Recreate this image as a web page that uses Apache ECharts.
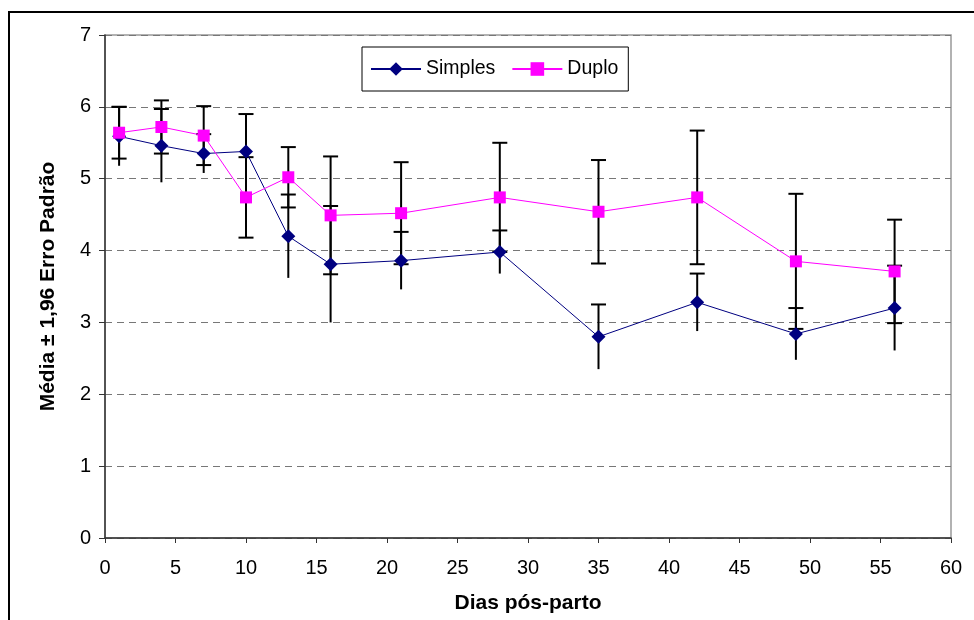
<!DOCTYPE html>
<html>
<head>
<meta charset="utf-8">
<script src="https://cdn.jsdelivr.net/npm/echarts@6/dist/echarts.min.js"></script>
<style>
html,body{margin:0;padding:0;background:#fff;}
#chart{width:974px;height:620px;}
</style>
</head>
<body>
<div id="chart"></div>
<script>
// ---- data ----
const days        = [1, 4, 7, 10, 13, 16, 21, 28, 35, 42, 49, 56];
const simplesMean = [5.59, 5.46, 5.35, 5.38, 4.20, 3.81, 3.86, 3.98, 2.80, 3.28, 2.84, 3.20];
const simplesErr  = [0.41, 0.51, 0.27, 0.52, 0.58, 0.81, 0.40, 0.30, 0.45, 0.40, 0.36, 0.59];
const duploMean   = [5.64, 5.72, 5.60, 4.74, 5.02, 4.49, 4.52, 4.74, 4.54, 4.74, 3.85, 3.71];
const duploErr    = [0.36, 0.37, 0.41, 0.56, 0.42, 0.82, 0.71, 0.76, 0.72, 0.93, 0.94, 0.72];
const seriesNames = ['Simples', 'Duplo'];
const xTitle = 'Dias pós-parto';
const yTitle = 'Média ± 1,96 Erro Padrão';

const FONT = "'Liberation Sans', Arial, sans-serif";
const chart = echarts.init(document.getElementById('chart'), null, {renderer: 'canvas'});

function errData(mean, err) {
  return days.map((d, i) => [d, mean[i], err[i]]);
}
function lineData(mean) {
  return days.map((d, i) => [d, mean[i]]);
}
function errRender(bottomCap) {
  return function (params, api) {
    const x = api.value(0), m = api.value(1), e = api.value(2);
    const top = api.coord([x, m + e]);
    const bot = api.coord([x, m - e]);
    const hw = 7.5;
    const st = {stroke: '#000', lineWidth: 2};
    const children = [
      {type: 'line', shape: {x1: top[0], y1: top[1], x2: bot[0], y2: bot[1]}, style: st},
      {type: 'line', shape: {x1: top[0] - hw, y1: top[1], x2: top[0] + hw, y2: top[1]}, style: st}
    ];
    if (bottomCap) {
      children.push({type: 'line', shape: {x1: bot[0] - hw, y1: bot[1], x2: bot[0] + hw, y2: bot[1]}, style: st});
    }
    return {type: 'group', children: children};
  };
}

const option = {
  animation: false,
  backgroundColor: '#fff',
  textStyle: {fontFamily: FONT, color: '#000'},
  graphic: [{
    type: 'rect', z: -10, silent: true,
    shape: {x: 9, y: 12, width: 1000, height: 700},
    style: {fill: 'none', stroke: '#000', lineWidth: 2}
  }],
  grid: {
    left: 105, right: 23, top: 35, bottom: 82,
    show: true, borderColor: '#999', borderWidth: 1.5, backgroundColor: 'transparent'
  },
  legend: {
    data: seriesNames,
    left: 362, top: 47,
    orient: 'horizontal',
    padding: [12, 10, 12, 8],
    itemWidth: 50, itemHeight: 17, itemGap: 16,
    borderColor: '#000', borderWidth: 1, backgroundColor: '#fff',
    textStyle: {fontFamily: FONT, fontSize: 19.5, color: '#000'}
  },
  xAxis: {
    type: 'value', min: 0, max: 60, interval: 5,
    name: xTitle, nameLocation: 'middle', nameGap: 55,
    nameTextStyle: {fontFamily: FONT, fontSize: 21, fontWeight: 'bold', color: '#000'},
    axisLine: {show: true, onZero: false, lineStyle: {color: '#333', width: 1.5}},
    axisTick: {show: true, inside: false, length: 5, lineStyle: {color: '#333', width: 1}},
    axisLabel: {fontFamily: FONT, fontSize: 20, color: '#000', margin: 20},
    splitLine: {show: false}
  },
  yAxis: {
    type: 'value', min: 0, max: 7, interval: 1,
    name: yTitle, nameLocation: 'middle', nameGap: 46, nameRotate: 90,
    nameTextStyle: {fontFamily: FONT, fontSize: 21, fontWeight: 'bold', color: '#000'},
    axisLine: {show: true, lineStyle: {color: '#333', width: 1.5}},
    axisTick: {show: true, inside: false, length: 6, lineStyle: {color: '#333', width: 1}},
    axisLabel: {fontFamily: FONT, fontSize: 20, color: '#000', margin: 14},
    splitLine: {show: true, lineStyle: {color: '#777', width: 1, type: [7, 5]}}
  },
  series: [
    {
      name: 'Simples erro', type: 'custom', z: 1, silent: true,
      renderItem: errRender(false),
      encode: {x: 0, y: 1},
      data: errData(simplesMean, simplesErr)
    },
    {
      name: 'Duplo erro', type: 'custom', z: 1, silent: true,
      renderItem: errRender(true),
      encode: {x: 0, y: 1},
      data: errData(duploMean, duploErr)
    },
    {
      name: seriesNames[0], type: 'line', z: 3,
      data: lineData(simplesMean),
      symbol: 'diamond', symbolSize: 14,
      itemStyle: {color: '#000080'},
      lineStyle: {color: '#000080', width: 1},
      emphasis: {disabled: true}
    },
    {
      name: seriesNames[1], type: 'line', z: 4,
      data: lineData(duploMean),
      symbol: 'rect', symbolSize: 12,
      itemStyle: {color: '#FF00FF'},
      lineStyle: {color: '#FF00FF', width: 1},
      emphasis: {disabled: true}
    }
  ]
};
chart.setOption(option);
</script>
</body>
</html>
